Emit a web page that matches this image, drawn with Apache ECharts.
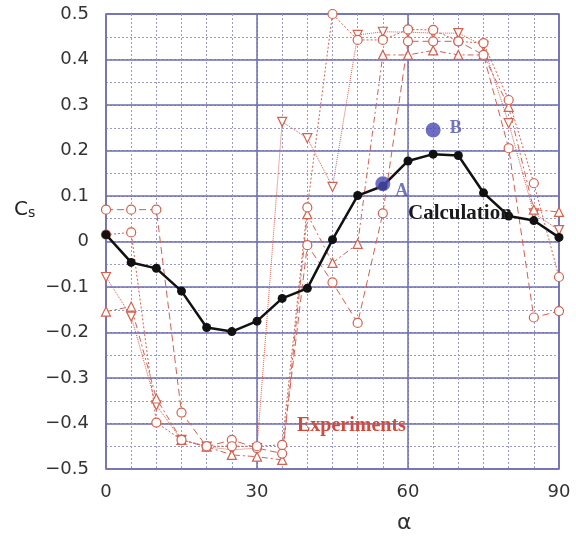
<!DOCTYPE html>
<html>
<head>
<meta charset="utf-8">
<script src="https://cdn.jsdelivr.net/npm/echarts@6/dist/echarts.min.js"></script>
<style>
  html, body { margin: 0; padding: 0; background: #ffffff; }
  #chart { width: 576px; height: 542px; }
</style>
</head>
<body>
<div id="chart"></div>
<script>
// Angle of attack (degrees) shared by every curve
const alpha = [0, 5, 10, 15, 20, 25, 30, 35, 40, 45, 50, 55, 60, 65, 70, 75, 80, 85, 90];

// Computed side-force coefficient
const calculation = [0.015, -0.046, -0.059, -0.109, -0.189, -0.198, -0.175, -0.125, -0.103, 0.004,
                     0.101, 0.122, 0.177, 0.192, 0.189, 0.107, 0.056, 0.046, 0.009];

// Measured runs
const expDown   = [-0.078, -0.165, -0.360, -0.436, -0.451, -0.458, -0.454, 0.263, 0.227, 0.120,
                   0.454, 0.461, 0.460, 0.458, 0.458, 0.430, 0.260, 0.062, 0.025];
const expUp     = [-0.154, -0.143, -0.345, -0.436, -0.451, -0.469, -0.473, -0.480, 0.060, -0.047,
                   -0.005, 0.410, 0.410, 0.420, 0.410, 0.410, 0.296, 0.070, 0.065];
const expCircA  = [0.070, 0.070, 0.070, -0.376, -0.451, -0.436, -0.454, -0.466, -0.008, -0.090,
                   -0.179, 0.062, 0.440, 0.440, 0.440, 0.410, 0.205, -0.167, -0.153];
const expCircB  = [0.015, 0.020, -0.398, -0.436, -0.450, -0.450, -0.450, -0.447, 0.075, 0.500,
                   0.443, 0.443, 0.466, 0.465, 0.440, 0.436, 0.311, 0.128, -0.078];

// Highlighted cases
const pointA = [55, 0.127];
const pointB = [65, 0.245];

// Axis tick labels
const xTickLabels = ['0', '30', '60', '90'];
const xTickValues = [0, 30, 60, 90];
const yTickLabels = ['\u22120.5', '\u22120.4', '\u22120.3', '\u22120.2', '\u22120.1', '0',
                     '0.1', '0.2', '0.3', '0.4', '0.5'];

const pairs = ys => alpha.map((a, i) => [a, ys[i]]);

const RED = '#d6604e';
const GRID_MAJOR = '#6c6cb2';
const GRID_MINOR = '#9a9ac8';

function expSeries(data, symbol, lineType) {
  return {
    type: 'line',
    data: pairs(data),
    symbol: symbol,
    symbolSize: 9,
    showAllSymbol: true,
    lineStyle: { color: RED, width: 1, type: lineType },
    itemStyle: { color: '#ffffff', borderColor: RED, borderWidth: 1.2 },
    z: 3
  };
}

const chart = echarts.init(document.getElementById('chart'));
chart.setOption({
  animation: false,
  backgroundColor: '#ffffff',
  grid: {
    left: 106, right: 17, top: 14, bottom: 73,
    show: true, borderColor: GRID_MAJOR, borderWidth: 1.5, backgroundColor: 'transparent'
  },
  xAxis: [
    {
      type: 'value', min: 0, max: 90, interval: 5,
      axisLine: { show: false }, axisTick: { show: false },
      axisLabel: {
        margin: 14, color: '#333', fontSize: 18, fontFamily: 'DejaVu Sans',
        formatter: v => { const k = xTickValues.indexOf(Math.round(v)); return k >= 0 ? xTickLabels[k] : ''; }
      },
      splitLine: { show: true, lineStyle: { color: GRID_MINOR, width: 1, type: [2, 2] } }
    },
    {
      type: 'value', min: 0, max: 90, interval: 30, position: 'bottom',
      axisLine: { show: false }, axisTick: { show: false }, axisLabel: { show: false },
      splitLine: { show: true, lineStyle: { color: GRID_MAJOR, width: 1.5 } }
    }
  ],
  yAxis: [
    {
      type: 'value', min: -0.5, max: 0.5, interval: 0.05,
      axisLine: { show: false }, axisTick: { show: false },
      axisLabel: {
        margin: 17, color: '#333', fontSize: 18, fontFamily: 'DejaVu Sans',
        formatter: v => { const k = Math.round(v * 20); return k % 2 === 0 ? yTickLabels[k / 2 + 5] : ''; }
      },
      splitLine: { show: true, lineStyle: { color: GRID_MINOR, width: 1, type: [2, 2] } }
    },
    {
      type: 'value', min: -0.5, max: 0.5, interval: 0.1, position: 'left',
      axisLine: { show: false }, axisTick: { show: false }, axisLabel: { show: false },
      splitLine: { show: true, lineStyle: { color: GRID_MAJOR, width: 1.5 } }
    }
  ],
  series: [
    expSeries(expDown, 'path://M0,0 L10,0 L5,9 Z', 'dotted'),
    expSeries(expUp, 'triangle', [6, 3, 2, 3]),
    expSeries(expCircA, 'circle', [7, 4]),
    expSeries(expCircB, 'circle', [2, 2]),
    {
      type: 'line',
      data: pairs(calculation),
      symbol: 'circle',
      symbolSize: 9,
      lineStyle: { color: '#111111', width: 2.5 },
      itemStyle: { color: '#111111' },
      z: 5
    },
    {
      type: 'scatter',
      data: [
        { value: pointA, label: { formatter: 'A', offset: [0, 8] } },
        { value: pointB, label: { formatter: 'B', offset: [4, -2] } }
      ],
      symbolSize: 15,
      itemStyle: { color: '#4a4ab4' },
      label: {
        show: true, position: 'right', distance: 5,
        color: '#5252aa', fontSize: 18, fontWeight: 'bold', fontFamily: 'Liberation Serif'
      },
      z: 6
    }
  ],
  graphic: [
    {
      type: 'text', left: 408, top: 203, z: 10,
      style: { text: 'Calculation', fill: '#1a1a1a', font: 'bold 21px "Liberation Serif"' }
    },
    {
      type: 'text', left: 297, top: 416, z: 10,
      style: { text: 'Experiments', fill: '#d24a3c', font: 'bold 20px "Liberation Serif"' }
    },
    {
      type: 'text', left: 14, top: 200, z: 10,
      style: {
        text: '{c|C}{s|s}',
        rich: {
          c: { fontSize: 20, fontFamily: 'DejaVu Sans', fill: '#222', verticalAlign: 'bottom' },
          s: { fontSize: 14, fontFamily: 'DejaVu Sans', fill: '#222', padding: [8, 0, 0, 0] }
        }
      }
    },
    {
      type: 'text', left: 397, top: 512, z: 10,
      style: { text: 'α', fill: '#333', font: '22px "DejaVu Sans"' }
    }
  ]
});
</script>
</body>
</html>
